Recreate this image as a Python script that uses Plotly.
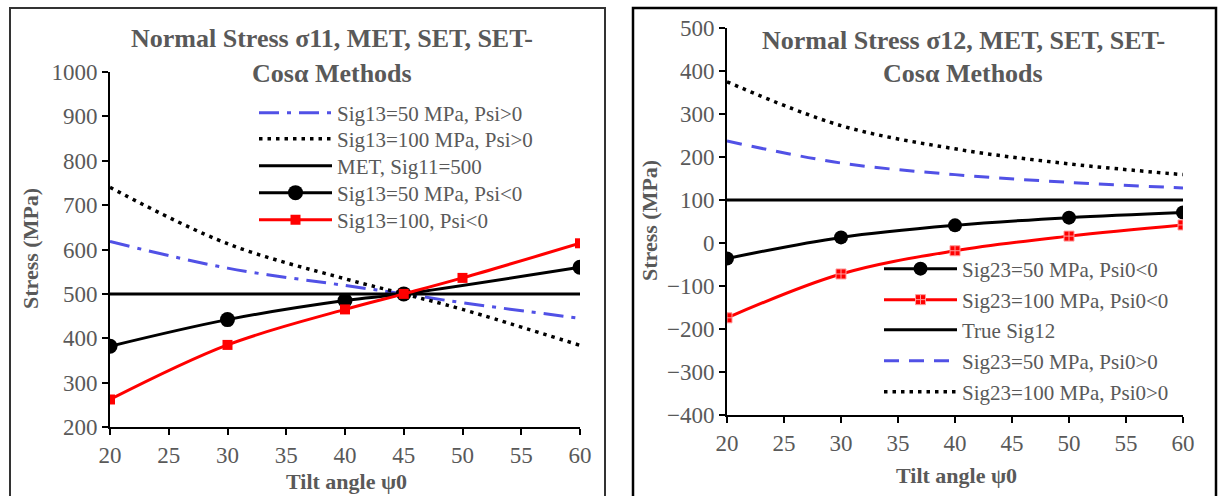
import plotly.graph_objects as go

# ---------------- data ----------------
# Left chart: Normal stress sigma11
x_pos = [20, 30, 40, 45, 50, 60]
sig13_50_pos = [618, 558, 519, 500, 480, 445]
sig13_100_pos = [740, 613, 534, 500, 465, 384]
met_x = [20, 60]
met_sig11 = [500, 500]
x_neg50 = [20, 30, 40, 45, 60]
sig13_50_neg = [382, 442, 485, 500, 560]
x_neg100 = [20, 30, 40, 45, 50, 60]
sig13_100_neg = [262, 385, 465, 500, 536, 614]

# Right chart: sigma12
x_r = [20, 30, 40, 50, 60]
sig23_50_neg = [-36, 13, 41, 59, 71]
sig23_100_neg = [-174, -72, -18, 16, 42]
true_x = [20, 60]
true_sig12 = [100, 100]
sig23_50_pos = [237, 186, 159, 141, 128]
sig23_100_pos = [375, 273, 219, 184, 159]

left_yticks = [200, 300, 400, 500, 600, 700, 800, 900, 1000]
right_yticks = [-400, -300, -200, -100, 0, 100, 200, 300, 400, 500]
xticks = [20, 25, 30, 35, 40, 45, 50, 55, 60]

FONT = "Liberation Serif"
GRAY = "#595959"
BLUE = "#5151E6"
RED = "#FF0000"

W, H = 1221, 496


def px_x(p):
    return p / W


def px_y(p):
    return 1 - p / H


fig = go.Figure()

left_x_leg = 254
right_x_leg = 879
left_leg_y = [113, 139, 166, 193, 220]
right_leg_y = [269, 300, 330, 361, 392]

traces = [
    ("Sig13=50 MPa, Psi>0", x_pos, sig13_50_pos, "l",
     dict(color=BLUE, width=3, dash="20px,8px,4px,8px", shape="spline"), None),
    ("Sig13=100 MPa, Psi>0", x_pos, sig13_100_pos, "l",
     dict(color="black", width=3.5, dash="3.5px,5px", shape="spline"), None),
    ("MET, Sig11=500", met_x, met_sig11, "l",
     dict(color="black", width=3), None),
    ("Sig13=50 MPa, Psi<0", x_neg50, sig13_50_neg, "l",
     dict(color="black", width=3, shape="spline"), dict(symbol="circle", size=15, color="black")),
    ("Sig13=100, Psi<0", x_neg100, sig13_100_neg, "l",
     dict(color=RED, width=3, shape="spline"), dict(symbol="square", size=10, color=RED)),
    ("Sig23=50 MPa, Psi0<0", x_r, sig23_50_neg, "r",
     dict(color="black", width=3, shape="spline"), dict(symbol="circle", size=14, color="black")),
    ("Sig23=100 MPa, Psi0<0", x_r, sig23_100_neg, "r",
     dict(color=RED, width=3, shape="spline"),
     dict(symbol="square-cross", size=10, color=RED, line=dict(color="#FF9A9A", width=1))),
    ("True Sig12", true_x, true_sig12, "r",
     dict(color="black", width=3), None),
    ("Sig23=50 MPa, Psi0>0", x_r, sig23_50_pos, "r",
     dict(color=BLUE, width=3, dash="15px,10px", shape="spline"), None),
    ("Sig23=100 MPa, Psi0>0", x_r, sig23_100_pos, "r",
     dict(color="black", width=3.5, dash="3.5px,5px", shape="spline"), None),
]

legend_layouts = {}
li = ri = 0
for i, (name, xs, ys, side, line, marker) in enumerate(traces):
    key = "legend" if i == 0 else "legend%d" % (i + 1)
    if side == "l":
        lx, ly = left_x_leg, left_leg_y[li]
        li += 1
        xa, ya = "x", "y"
    else:
        lx, ly = right_x_leg, right_leg_y[ri]
        ri += 1
        xa, ya = "x2", "y2"
    kw = dict(x=xs, y=ys, name=name, line=line, xaxis=xa, yaxis=ya, legend=key)
    if marker is not None:
        kw["mode"] = "lines+markers"
        kw["marker"] = marker
    else:
        kw["mode"] = "lines"
    fig.add_trace(go.Scatter(**kw))
    legend_layouts[key] = dict(x=px_x(lx), y=px_y(ly), xanchor="left", yanchor="middle",
                               bgcolor="rgba(0,0,0,0)", borderwidth=0,
                               font=dict(family=FONT, size=21, color=GRAY), itemwidth=73)

axis_common = dict(showgrid=False, zeroline=False, showline=True, linecolor="black", linewidth=2,
                   ticks="outside", ticklen=6, tickcolor="black", tickwidth=1.5, automargin=False,
                   tickfont=dict(family=FONT, size=23, color=GRAY))

fig.update_layout(
    width=W, height=H,
    margin=dict(l=0, r=0, t=0, b=0, pad=0, autoexpand=False),
    paper_bgcolor="white", plot_bgcolor="white",
    showlegend=True,
    xaxis=dict(domain=[px_x(110), px_x(580)], range=[20, 60], tickvals=xticks, anchor="y", **axis_common),
    yaxis=dict(domain=[px_y(427), px_y(72)], range=[200, 1000], tickvals=left_yticks, anchor="x", **axis_common),
    xaxis2=dict(domain=[px_x(727), px_x(1183)], range=[20, 60], tickvals=xticks, anchor="y2", **axis_common),
    yaxis2=dict(domain=[px_y(415), px_y(28)], range=[-400, 500], tickvals=right_yticks, anchor="x2", **axis_common),
    **legend_layouts,
)

# panel borders
fig.add_shape(type="rect", xref="paper", yref="paper", x0=px_x(10), x1=px_x(605), y0=px_y(520), y1=px_y(8),
              line=dict(color="#333333", width=2))
fig.add_shape(type="rect", xref="paper", yref="paper", x0=px_x(633), x1=px_x(1216), y0=px_y(520), y1=px_y(8),
              line=dict(color="black", width=2.5))

title_font = dict(family=FONT, size=26, color=GRAY)
ann = [
    dict(text="<b>Normal Stress σ11, MET, SET, SET-</b>", x=px_x(332), y=px_y(39)),
    dict(text="<b>Cosα Methods</b>", x=px_x(332), y=px_y(73)),
    dict(text="<b>Normal Stress σ12, MET, SET, SET-</b>", x=px_x(963), y=px_y(40)),
    dict(text="<b>Cosα Methods</b>", x=px_x(963), y=px_y(73)),
]
for a in ann:
    fig.add_annotation(xref="paper", yref="paper", xanchor="center", yanchor="middle", showarrow=False,
                       font=title_font, **a)

lab_font = dict(family=FONT, size=22, color=GRAY)
fig.add_annotation(text="<b>Stress (MPa)</b>", xref="paper", yref="paper", x=px_x(30), y=px_y(249),
                   textangle=-90, showarrow=False, font=lab_font, xanchor="center", yanchor="middle")
fig.add_annotation(text="<b>Stress (MPa)</b>", xref="paper", yref="paper", x=px_x(649), y=px_y(221),
                   textangle=-90, showarrow=False, font=lab_font, xanchor="center", yanchor="middle")
fig.add_annotation(text="<b>Tilt angle ψ0</b>", xref="paper", yref="paper", x=px_x(346), y=px_y(481),
                   showarrow=False, font=lab_font, xanchor="center", yanchor="middle")
fig.add_annotation(text="<b>Tilt angle ψ0</b>", xref="paper", yref="paper", x=px_x(956), y=px_y(475),
                   showarrow=False, font=lab_font, xanchor="center", yanchor="middle")

fig.write_html("out.html", config={"displayModeBar": False},
               post_script="document.body.style.margin='0';document.body.style.overflow='hidden';")
